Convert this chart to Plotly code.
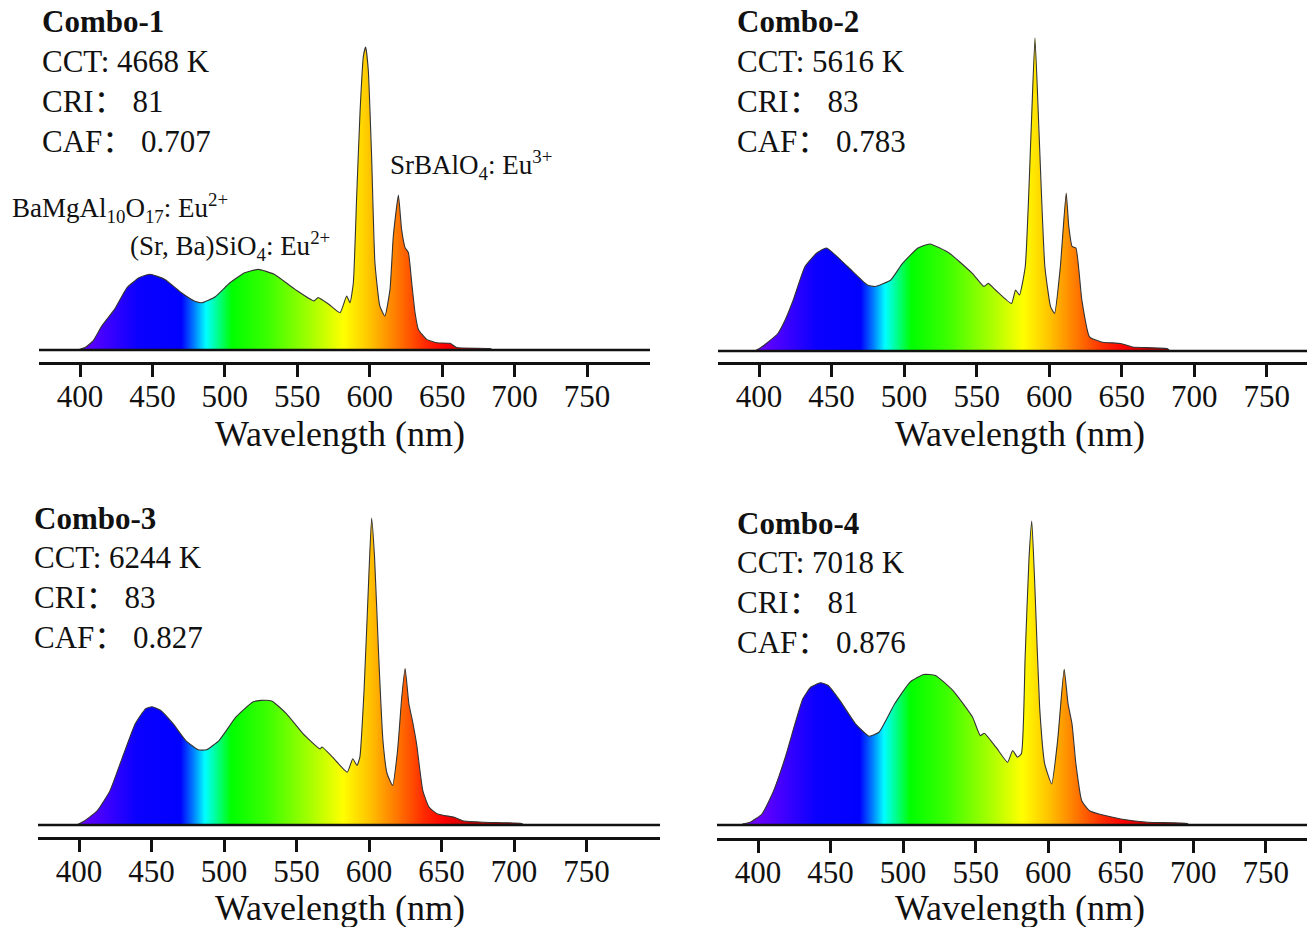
import plotly.graph_objects as go

# ---- data: emission spectra (wavelength in nm, intensity normalised to the main peak) ----
wl_1 = [398.5, 403.5, 409, 415, 423.8, 432.5, 441, 448.4, 458.6, 470, 478.9, 484, 493.4,
        503.5, 513.7, 523, 534, 548.5, 561.5, 564.4, 571.7, 579.5, 584.1, 586.4, 588.7,
        591, 593.3, 595.6, 597.2, 599, 601.3, 603.6, 607, 610.5, 614, 616.3, 619.8, 622,
        624.4, 626.7, 629, 631.3, 633.6, 639.3, 646.2, 655.4, 660, 683, 685]
in_1 = [0, 0.008, 0.03, 0.079, 0.134, 0.206, 0.239, 0.25, 0.233, 0.189, 0.162, 0.156, 0.176,
        0.222, 0.255, 0.266, 0.25, 0.2, 0.162, 0.173, 0.151, 0.123, 0.178, 0.156, 0.222,
        0.508, 0.783, 0.969, 1.0, 0.925, 0.64, 0.288, 0.145, 0.112, 0.2, 0.376, 0.511, 0.398,
        0.338, 0.321, 0.222, 0.123, 0.068, 0.035, 0.024, 0.022, 0.008, 0.005, 0]

wl_2 = [396.8, 400, 405, 413, 418, 423.6, 431.7, 439.8, 446.5, 461, 474.7, 480, 490.8, 498.9,
        509.6, 517.7, 531, 547, 555, 558, 563, 574, 576.8, 579.5, 583.5, 587.5, 590.2, 593,
        597, 601, 603.7, 607.7, 611.7, 613.5, 615.8, 618.4, 622.5, 627.8, 635.9, 649.3,
        657.4, 681.6, 683]
in_2 = [0, 0.007, 0.024, 0.056, 0.099, 0.163, 0.27, 0.313, 0.329, 0.27, 0.211, 0.206, 0.227,
        0.28, 0.329, 0.342, 0.313, 0.248, 0.206, 0.216, 0.195, 0.152, 0.195, 0.179, 0.27,
        0.698, 1.0, 0.698, 0.27, 0.141, 0.12, 0.27, 0.505, 0.398, 0.334, 0.329, 0.163, 0.045,
        0.029, 0.024, 0.013, 0.0075, 0]

wl_3 = [398.3, 404, 412.7, 421.4, 430, 438.8, 446, 450.4, 456.2, 464.9, 473.5, 482.2, 488,
        496.7, 508.3, 519.9, 525.6, 532.9, 543, 554.6, 566.2, 567.6, 574.9, 585, 588.8, 591.7,
        593.7, 596.6, 599.5, 601.8, 603.8, 606.7, 609.6, 612.5, 616.3, 619.7, 622.6, 624.9,
        627.5, 629.9, 632.8, 637.1, 641.4, 647.3, 658.8, 664.6, 679.1, 705.2, 707]
in_3 = [0, 0.014, 0.047, 0.112, 0.221, 0.33, 0.379, 0.385, 0.374, 0.33, 0.276, 0.245, 0.245,
        0.276, 0.352, 0.401, 0.406, 0.404, 0.363, 0.297, 0.248, 0.254, 0.221, 0.172, 0.216,
        0.194, 0.221, 0.439, 0.766, 1.0, 0.875, 0.548, 0.276, 0.167, 0.129, 0.243, 0.417,
        0.51, 0.395, 0.341, 0.265, 0.112, 0.058, 0.036, 0.025, 0.014, 0.009, 0.005, 0]

wl_4 = [389.2, 394.6, 402.7, 410.8, 418.8, 425.5, 430.9, 436.3, 443, 448.4, 456.5, 467.2,
        476.6, 483.3, 494.1, 504.8, 514.2, 522.3, 534.4, 547.8, 553.2, 555.9, 564, 572,
        575.5, 578.8, 581.5, 584.1, 586.8, 588.7, 590.9, 594.1, 597.6, 602.4, 606.5, 611,
        613.7, 616.4, 619.1, 623.1, 628.5, 639.2, 650, 668.8, 695.7, 697]
in_4 = [0.003, 0.009, 0.036, 0.113, 0.223, 0.333, 0.415, 0.453, 0.468, 0.459, 0.409, 0.333,
        0.292, 0.305, 0.398, 0.47, 0.495, 0.492, 0.442, 0.355, 0.294, 0.302, 0.256, 0.206,
        0.245, 0.223, 0.234, 0.552, 0.881, 1.0, 0.772, 0.387, 0.201, 0.135, 0.278, 0.512,
        0.398, 0.333, 0.201, 0.08, 0.047, 0.031, 0.02, 0.009, 0.005, 0]

combo_names = ["Combo-1", "Combo-2", "Combo-3", "Combo-4"]
cct_k = [4668, 5616, 6244, 7018]
cri = [81, 83, 83, 81]
caf = [0.707, 0.783, 0.827, 0.876]
tick_nm = [400, 450, 500, 550, 600, 650, 700, 750]
phosphor_labels = ["SrBAlO<sub>4</sub>: Eu<sup>3+</sup>",
                   "BaMgAl<sub>10</sub>O<sub>17</sub>: Eu<sup>2+</sup>",
                   "(Sr, Ba)SiO<sub>4</sub>: Eu<sup>2+</sup>"]

wavelengths = [wl_1, wl_2, wl_3, wl_4]
intensities = [in_1, in_2, in_3, in_4]

# ---- layout geometry (pixels) ----
W, H = 1310, 927
FONT = "Liberation Serif, 'Noto Sans CJK SC', serif"

# left, right, x-pixel of 400 nm, px per nm, axis-line y, baseline y, peak-top y
panels = [
    dict(left=39, right=650, x400=80, scale=1.4486, axis=362, base=350, peak=47),
    dict(left=718, right=1307, x400=759, scale=1.451, axis=362, base=351, peak=38),
    dict(left=38, right=660, x400=79, scale=1.45, axis=837, base=825, peak=518),
    dict(left=717, right=1307, x400=758, scale=1.451, axis=838, base=825, peak=521),
]
# text block positions: (left x, y of first line)
text_pos = [(40, 22), (735, 22), (32, 518), (735, 523)]
label_y = [434, 434, 908, 908]
label_x = [340, 1020, 340, 1020]

# visible-spectrum fill colours, keyed by wavelength
spec_stops = [(380, "#8000ff"), (400, "#6a00ff"), (420, "#3a00ff"), (440, "#0a00ff"),
              (470, "#0000ff"), (479, "#0080ff"), (487, "#00ffff"), (496, "#00ff80"),
              (505, "#00ff00"), (530, "#3cff00"), (560, "#a8ff00"), (582, "#ffff00"),
              (600, "#ffc400"), (620, "#ff7400"), (638, "#ff2a00"), (652, "#ff0000"),
              (668, "#c80000"), (700, "#a00000"), (780, "#800000")]
g0, g1 = spec_stops[0][0], spec_stops[-1][0]
spec_scale = [[(w - g0) / (g1 - g0), c] for w, c in spec_stops]

fig = go.Figure()
annotations = []

for i, p in enumerate(panels):
    n = i + 1
    xa = "x" if n == 1 else f"x{n}"
    ya = "y" if n == 1 else f"y{n}"
    top_px = p["peak"] - 20
    unit = p["base"] - p["peak"]
    x_lo = 400 - (p["x400"] - p["left"]) / p["scale"]
    x_hi = 400 + (p["right"] - p["x400"]) / p["scale"]
    y_lo = -(p["axis"] - p["base"]) / unit
    y_hi = (p["base"] - top_px) / unit

    fig.add_trace(go.Scatter(
        x=wavelengths[i], y=intensities[i], xaxis=xa, yaxis=ya, mode="lines",
        line=dict(color="#333333", width=1.1, shape="spline", smoothing=0.45),
        fill="tozeroy",
        fillgradient=dict(type="horizontal", colorscale=spec_scale, start=g0, stop=g1),
        hoverinfo="skip", showlegend=False))
    # baseline across the full axis
    fig.add_trace(go.Scatter(
        x=[x_lo, x_hi], y=[0, 0], xaxis=xa, yaxis=ya, mode="lines",
        line=dict(color="#111111", width=2.4), hoverinfo="skip", showlegend=False))

    xkey = "xaxis" if n == 1 else f"xaxis{n}"
    ykey = "yaxis" if n == 1 else f"yaxis{n}"
    fig.layout[xkey] = dict(
        domain=[p["left"] / W, p["right"] / W], range=[x_lo, x_hi], anchor=ya,
        showgrid=False, zeroline=False, showline=True, linecolor="#111111", linewidth=3,
        ticks="outside", ticklen=12, tickwidth=3, tickcolor="#111111",
        tickvals=tick_nm, ticktext=[str(t) for t in tick_nm], ticklabelstandoff=-7,
        tickfont=dict(family=FONT, size=31, color="#111111"), fixedrange=True)
    fig.layout[ykey] = dict(
        domain=[1 - p["axis"] / H, 1 - top_px / H], range=[y_lo, y_hi], anchor=xa,
        visible=False, showgrid=False, zeroline=False, fixedrange=True)

    # combo name and colour metrics
    tx, ty = text_pos[i]
    lines = [f"<b>{combo_names[i]}</b>", f"CCT: {cct_k[i]} K",
             f"CRI： {cri[i]}", f"CAF： {caf[i]:.3f}"]
    for k, t in enumerate(lines):
        annotations.append(dict(
            text=t, xref="paper", yref="paper", x=tx / W, y=1 - (ty + 39.7 * k) / H,
            xanchor="left", yanchor="middle", showarrow=False,
            font=dict(family=FONT, size=31, color="#111111")))
    annotations.append(dict(
        text="Wavelength (nm)", xref="paper", yref="paper", x=label_x[i] / W,
        y=1 - label_y[i] / H, xanchor="center", yanchor="middle", showarrow=False,
        font=dict(family=FONT, size=36, color="#111111")))

# phosphor labels in the first panel
for t, (lx, ly) in zip(phosphor_labels, [(388, 165), (10, 208), (128, 246)]):
    annotations.append(dict(
        text=t, xref="paper", yref="paper", x=lx / W, y=1 - ly / H,
        xanchor="left", yanchor="middle", showarrow=False,
        font=dict(family=FONT, size=27, color="#111111")))

fig.update_layout(
    width=W, height=H, margin=dict(l=0, r=0, t=0, b=0),
    paper_bgcolor="white", plot_bgcolor="rgba(0,0,0,0)",
    annotations=annotations, showlegend=False)

fig.write_html("out.html", config={"displayModeBar": False})
